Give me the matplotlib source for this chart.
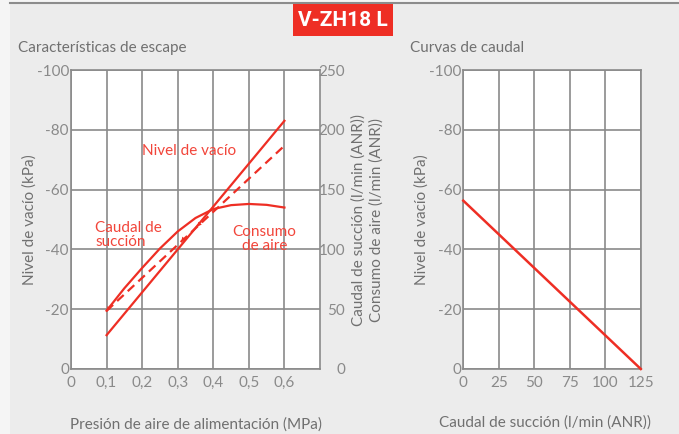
import numpy as np
import matplotlib
matplotlib.use("Agg")
import matplotlib.pyplot as plt
from matplotlib.patches import Rectangle

plt.rcParams['font.family'] = ['Lato', 'DejaVu Sans']
plt.rcParams['axes.unicode_minus'] = False

# --- data ---
presion = [0.1, 0.15, 0.2, 0.25, 0.3, 0.35, 0.4, 0.45, 0.5, 0.55, 0.6]
nivel_vacio = [-19.5, -27.0, -33.8, -40.3, -46.0, -50.5, -53.5, -54.8, -55.2, -54.9, -54.0]

presion_lin = [0.1, 0.6]
caudal_succion = [48.6, 186.7]   # dashed, l/min (ANR)
consumo_aire = [28.3, 207.5]     # solid straight, l/min (ANR)

caudal = [0, 125]
vacio_caudal = [-56.3, 0]

x_ticks = [0, 0.1, 0.2, 0.3, 0.4, 0.5, 0.6]
x_labels = ['0', '0,1', '0,2', '0,3', '0,4', '0,5', '0,6']
y_ticks = [0, -20, -40, -60, -80, -100]
y2_ticks = [0, 50, 100, 150, 200, 250]
q_ticks = [0, 25, 50, 75, 100, 125]

RED = '#ee2e24'
TXT_RED = '#f2453a'
GRAY = '#8a8a8a'
TICK = '#8a8a8a'
LAB = '#707070'

W, H = 679, 434
fig = plt.figure(figsize=(W / 100, H / 100), dpi=100, facecolor='#f5f5f5')

# background panel, top rule and title badge
fig.patches.append(Rectangle((10 / W, 0), 1, (H - 3) / H, transform=fig.transFigure,
                             facecolor='#ececec', edgecolor='none', zorder=-10))
fig.lines.append(plt.Line2D([10 / W, 1], [(H - 3) / H] * 2, transform=fig.transFigure,
                            color='#8c8c8c', lw=1.5, zorder=-5))
fig.patches.append(Rectangle((292.7 / W, (H - 36) / H), 100 / W, 32 / H,
                             transform=fig.transFigure, facecolor='#ee2e24',
                             edgecolor='none', zorder=2))
fig.text(342.7 / W, (H - 20) / H, 'V-ZH18 L', color='white', fontsize=15,
         fontweight='bold', family=['Roboto', 'DejaVu Sans'],
         ha='center', va='center', zorder=3)

fig.text(18 / W, (H - 48) / H, 'Características de escape', color=LAB, fontsize=11,
         ha='left', va='center')
fig.text(410 / W, (H - 48) / H, 'Curvas de caudal', color=LAB, fontsize=11,
         ha='left', va='center')


def style(ax):
    ax.set_facecolor('white')
    for s in ax.spines.values():
        s.set_color(GRAY)
        s.set_linewidth(1.2)
    ax.tick_params(length=0, labelsize=11, labelcolor=TICK, pad=1.5)
    ax.set_ylim(0, -100)
    ax.set_yticks(y_ticks)
    ax.set_yticklabels([str(v) for v in y_ticks])
    ax.set_axisbelow(True)
    ax.grid(True, color=GRAY, lw=1.2)


# --- left chart ---
ax = fig.add_axes([71 / W, (H - 369) / H, 249 / W, 299 / H])
style(ax)
ax.set_xlim(0, 0.7)
ax.set_xticks(x_ticks)
ax.set_xticklabels(x_labels)
ax.tick_params(axis='x', pad=5)
ax.set_ylabel('Nivel de vacío (kPa)', color=LAB, fontsize=11)
ax.yaxis.set_label_coords(-0.137, 0.5)
ax.set_xlabel('Presión de aire de alimentación (MPa)', color=LAB, fontsize=11, labelpad=20)

ax.plot(presion, nivel_vacio, color=RED, lw=1.6, zorder=3)

ax2 = ax.twinx()
ax2.set_ylim(0, 250)
ax2.set_yticks(y2_ticks)
ax2.set_yticklabels([str(v) for v in y2_ticks])
ax2.tick_params(length=0, labelsize=11, labelcolor=TICK, pad=18)
for t in ax2.get_yticklabels():
    t.set_horizontalalignment('right')
for s in ax2.spines.values():
    s.set_visible(False)
ax2.plot(presion_lin, caudal_succion, color=RED, lw=1.6, ls=(0, (4, 2.5)), zorder=3)
ax2.plot(presion_lin, consumo_aire, color=RED, lw=1.6, zorder=3)
ax2.set_ylabel('Caudal de succión (l/min (ANR))\nConsumo de aire (l/min (ANR))',
               color=LAB, fontsize=11, linespacing=1.35)
ax2.yaxis.set_label_coords(1.125, 0.5)

# small arrowheads along the dashed line
for xa in [0.1, 0.31, 0.355]:
    ya = np.interp(xa, presion_lin, caudal_succion)
    ax2.annotate('', xy=(xa, ya), xytext=(xa + 0.02, ya + 7.4),
                 arrowprops=dict(arrowstyle='-|>', color=RED, lw=0,
                                 mutation_scale=8, shrinkA=0, shrinkB=0))

ax.text(0.332, -73, 'Nivel de vacío', color=TXT_RED, fontsize=11, ha='center', va='center')
ax.text(0.068, -44.8, 'Caudal de\nsucción', color=TXT_RED, fontsize=11, ha='left',
        va='center', linespacing=1.0)
ax.text(0.544, -43.4, 'Consumo\nde aire', color=TXT_RED, fontsize=11, ha='center',
        va='center', linespacing=1.0)

# --- right chart ---
bx = fig.add_axes([463.3 / W, (H - 369) / H, 177.5 / W, 299 / H])
style(bx)
bx.set_xlim(0, 125)
bx.set_xticks(q_ticks)
bx.set_xticklabels([str(v) for v in q_ticks])
bx.tick_params(axis='x', pad=5)
bx.set_ylabel('Nivel de vacío (kPa)', color=LAB, fontsize=11)
bx.yaxis.set_label_coords(-0.193, 0.5)
bx.set_xlabel('Caudal de succión (l/min (ANR))', color=LAB, fontsize=11, labelpad=20)
bx.xaxis.set_label_coords(0.46, -0.155)
bx.plot(caudal, vacio_caudal, color=RED, lw=1.8, zorder=3, clip_on=False)

fig.savefig('out.png', dpi=100, facecolor=fig.get_facecolor())
